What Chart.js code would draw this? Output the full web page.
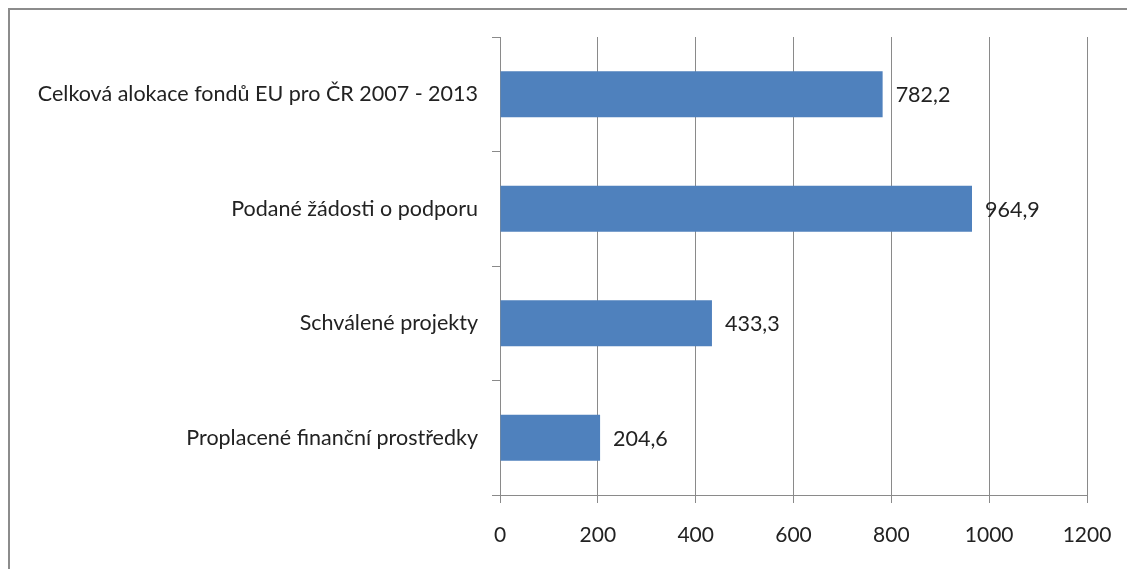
<!DOCTYPE html>
<html>
<head>
<meta charset="utf-8">
<script src="https://cdn.jsdelivr.net/npm/chart.js@4"></script>
<style>
  html, body { margin: 0; padding: 0; background: #fff; overflow: hidden; }
  #wrap { position: relative; width: 1127px; height: 569px; }
  #frame { position: absolute; left: 8px; top: 8px; width: 1200px; height: 700px; border: 2px solid #8c8c8c; box-sizing: border-box; }
  canvas { position: absolute; left: 0; top: 0; }
</style>
</head>
<body>
<div id="wrap">
  <div id="frame"></div>
  <canvas id="graf" width="1127" height="569"></canvas>
</div>
<script>
// kategorie a hodnoty (mld. Kč)
const kategorie = [
  'Celková alokace fondů EU pro ČR 2007 - 2013',
  'Podané žádosti o podporu',
  'Schválené projekty',
  'Proplacené finanční prostředky'
];
const hodnoty = [782.2, 964.9, 433.3, 204.6];
const osaX = [0, 200, 400, 600, 800, 1000, 1200];

const pismo = 'Lato, "Open Sans", sans-serif';
const sedaCara = '#8a8a8a';

// popisky hodnot za koncem sloupce
const popisky = {
  id: 'popisky',
  afterDatasetsDraw(chart) {
    const ctx = chart.ctx;
    const meta = chart.getDatasetMeta(0);
    ctx.save();
    ctx.font = '21.5px ' + pismo;
    ctx.fillStyle = '#222';
    ctx.textBaseline = 'middle';
    meta.data.forEach((bar, i) => {
      ctx.fillText(hodnoty[i].toFixed(1).replace('.', ','), bar.x + 13, bar.y + 1);
    });
    ctx.restore();
  }
};

new Chart(document.getElementById('graf'), {
  type: 'bar',
  data: {
    labels: kategorie,
    datasets: [{
      data: hodnoty,
      backgroundColor: '#4f81bd',
      categoryPercentage: 0.4,
      barPercentage: 1
    }]
  },
  options: {
    indexAxis: 'y',
    responsive: false,
    animation: false,
    layout: { padding: { top: 37, right: 0, left: 0, bottom: 0 } },
    plugins: { legend: { display: false }, tooltip: { enabled: false } },
    scales: {
      x: {
        min: 0,
        max: 1200,
        afterBuildTicks(axis) { axis.ticks = osaX.map(v => ({ value: v })); },
        afterFit(axis) { axis.height = 74; axis.paddingRight = 40; },
        grid: { color: sedaCara, lineWidth: 1, tickLength: 8 },
        border: { color: sedaCara, width: 1 },
        ticks: {
          color: '#222',
          font: { family: pismo, size: 21 },
          padding: 20,
          callback: v => String(v)
        }
      },
      y: {
        afterFit(axis) { axis.width = 500; },
        grid: { drawOnChartArea: false, color: sedaCara, tickLength: 8, offset: true },
        border: { color: sedaCara, width: 1 },
        ticks: { color: '#222', font: { family: pismo, size: 21.5 }, padding: 14 }
      }
    }
  },
  plugins: [popisky]
});
</script>
</body>
</html>
